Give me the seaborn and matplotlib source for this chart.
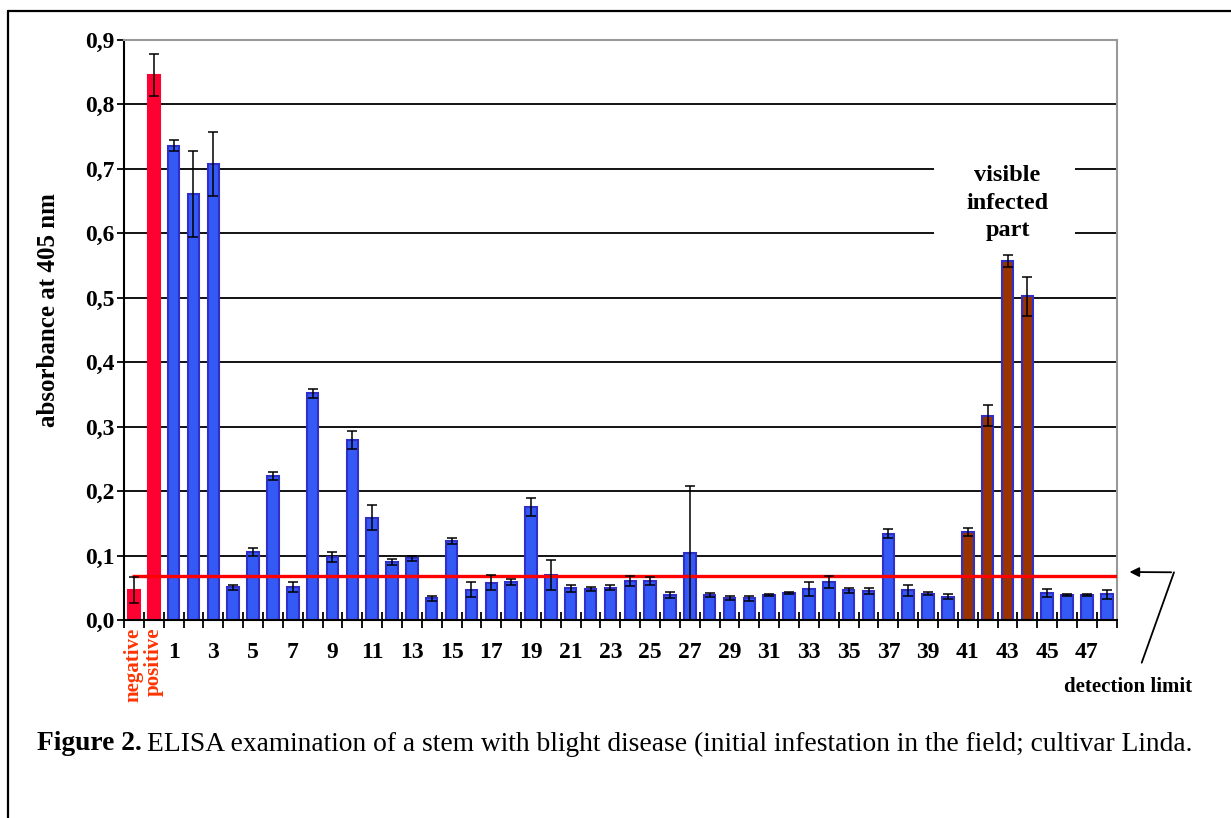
import pandas as pd
import seaborn as sns
import matplotlib.pyplot as plt
from matplotlib.lines import Line2D
from matplotlib.patches import Rectangle

# ELISA absorbance at 405 nm, controls + stem segments 1..48
samples = ["negative", "positive"] + [str(i) for i in range(1, 49)]
absorbance = [
    0.046, 0.846,
    0.736, 0.661, 0.708, 0.051, 0.106, 0.224, 0.051, 0.352, 0.098, 0.279,
    0.159, 0.090, 0.096, 0.034, 0.122, 0.047, 0.058, 0.059, 0.176, 0.070,
    0.049, 0.048, 0.050, 0.061, 0.060, 0.039, 0.104, 0.039, 0.034, 0.034,
    0.039, 0.042, 0.048, 0.059, 0.046, 0.045, 0.134, 0.046, 0.041, 0.036,
    0.137, 0.317, 0.557, 0.502, 0.042, 0.039, 0.039, 0.040,
]
std_err = [
    0.020, 0.033,
    0.009, 0.066, 0.050, 0.004, 0.006, 0.006, 0.0075, 0.007, 0.008, 0.014,
    0.020, 0.005, 0.004, 0.004, 0.0045, 0.012, 0.012, 0.005, 0.014, 0.023,
    0.006, 0.003, 0.004, 0.008, 0.006, 0.005, 0.104, 0.003, 0.003, 0.004,
    0.002, 0.002, 0.011, 0.010, 0.004, 0.004, 0.0065, 0.008, 0.002, 0.004,
    0.006, 0.016, 0.010, 0.031, 0.006, 0.002, 0.0015, 0.007,
]
visible_infected = ["41", "42", "43", "44"]
detection_limit = 0.069

colors = {"control": "#FF0033", "stem": "#3459F5", "visible": "#993300"}


def group_of(s):
    if s in ("negative", "positive"):
        return "control"
    if s in visible_infected:
        return "visible"
    return "stem"


df = pd.DataFrame({"sample": samples, "absorbance": absorbance, "err": std_err})
df["group"] = df["sample"].map(group_of)

sns.set_theme(style="white")
plt.rcParams["font.family"] = ["Liberation Serif", "DejaVu Serif"]
plt.rcParams.update({
    "font.weight": "bold",
    "text.color": "black",
    "axes.labelcolor": "black",
    "xtick.color": "black",
    "ytick.color": "black",
})

fig = plt.figure(figsize=(12.31, 8.18), dpi=100)
ax = fig.add_axes([124 / 1231, 1 - 620 / 818, 992.7 / 1231, 580 / 818])

palette = [colors[g] for g in df["group"]]
sns.barplot(data=df, x="sample", y="absorbance", hue="sample", palette=palette,
            legend=False, width=0.58, saturation=1, ax=ax, zorder=2)
for bar, g in zip(ax.patches, df["group"]):
    if g == "control":
        bar.set_edgecolor(colors["control"])
    else:
        bar.set_edgecolor("#3030C8")
    bar.set_linewidth(1.5)

xpos = range(len(df))
ax.errorbar(xpos, df["absorbance"], yerr=df["err"], fmt="none", ecolor="black",
            elinewidth=1.1, capsize=3.6, capthick=1.1, zorder=4)

ax.hlines(detection_limit, -0.1, len(df) - 0.5, color="#FF0000", lw=2.4, zorder=3.5)

# axes styling
ax.set_xlim(-0.5, len(df) - 0.5)
ax.set_ylim(0, 0.9)
yt = [i / 10 for i in range(10)]
ax.set_yticks(yt)
ax.set_yticklabels([f"{v:.1f}".replace(".", ",") for v in yt], fontsize=17, fontweight="bold")
ax.yaxis.grid(True, color="black", lw=1.3, zorder=0.5)
ax.set_axisbelow(True)
ax.tick_params(axis="y", direction="out", length=5, width=1.3, pad=2, left=True)

num_pos = [i for i, s in enumerate(samples) if s.isdigit() and int(s) % 2 == 1]
ax.set_xticks(num_pos)
ax.set_xticklabels([samples[i] for i in num_pos], fontsize=17, fontweight="bold")
ax.set_xticks([i - 0.5 for i in range(len(df) + 1)], minor=True)
ax.tick_params(axis="x", which="major", length=0, pad=16)
ax.tick_params(axis="x", which="minor", direction="inout", length=12, width=1.3, bottom=True)
ax.set_xlabel("")
ax.set_ylabel("absorbance at 405 nm", fontsize=18, fontweight="bold")
ax.yaxis.set_label_coords(-0.064, 0.534)

for side in ("left", "bottom"):
    ax.spines[side].set_color("black")
    ax.spines[side].set_linewidth(1.5)
for side in ("top", "right"):
    ax.spines[side].set_color("#999999")
    ax.spines[side].set_linewidth(1.5)

# control labels under the axis
for i, s in enumerate(samples[:2]):
    ax.text(i, -0.012, s, rotation=90, ha="center", va="top", color="#FF3300",
            fontsize=15, fontweight="bold", transform=ax.transData, clip_on=False)

# label for the visibly infected part, breaking the gridlines
ax.add_patch(Rectangle((40.3, 0.575), 7.1, 0.15, facecolor="white", edgecolor="none", zorder=1))
ax.text(44, 0.647, "visible\ninfected\npart", ha="center", va="center",
        fontsize=17.5, fontweight="bold", linespacing=1.4, zorder=3)

# detection limit arrow
fig.add_artist(Line2D([1141.7 / 1231, 1174 / 1231], [1 - 662.7 / 818, 1 - 572.3 / 818],
                      color="black", lw=1.3))
ax.annotate("", xy=(1126.7 / 1231, 1 - 572 / 818), xycoords="figure fraction",
            xytext=(1174 / 1231, 1 - 572.3 / 818), textcoords="figure fraction",
            arrowprops=dict(arrowstyle="-|>", color="black", lw=1.3, mutation_scale=14))
fig.text(1128 / 1231, 1 - 687 / 818, "detection limit", ha="center", va="center",
         fontsize=15, fontweight="bold")

# outer frame
fig.add_artist(Line2D([8 / 1231, 1], [1 - 11 / 818, 1 - 11 / 818], color="black", lw=1.6))
fig.add_artist(Line2D([8 / 1231, 8 / 1231], [0, 1 - 11 / 818], color="black", lw=1.6))

# caption
cap_y = 1 - 744 / 818
t1 = fig.text(37 / 1231, cap_y, "Figure 2.", fontsize=19.8, fontweight="bold", va="center")
fig.canvas.draw()
bb = t1.get_window_extent()
fig.text(bb.x1 / 1231 + 5 / 1231, cap_y,
         "ELISA examination of a stem with blight disease (initial infestation in the field; cultivar Linda.",
         fontsize=19.8, fontweight="normal", va="center")

fig.savefig("out.png", dpi=100, facecolor="white")
